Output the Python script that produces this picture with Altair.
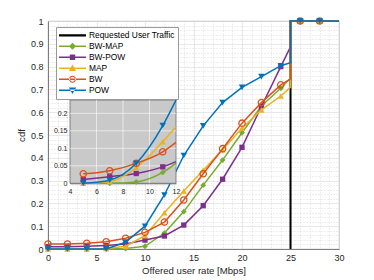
import altair as alt
import pandas as pd

# ---------------- data ----------------
series = ["Requested User Traffic", "BW-MAP", "BW-POW", "MAP", "BW", "POW"]
colors = ["#000000", "#77AC30", "#7E2F8E", "#EDB120", "#D95319", "#0072BD"]

# main plot samples (even rates, then the value just before the step at 25)
x_main = [0, 2, 4, 6, 8, 10, 12, 14, 16, 18, 20, 22, 24, 25]
bw_map = [0, 0, 0, 0, 0.002, 0.012, 0.07, 0.164, 0.28, 0.39, 0.51, 0.627, 0.705, 0.75]
bw_pow = [0.01, 0.01, 0.012, 0.015, 0.022, 0.039, 0.057, 0.105, 0.19, 0.306, 0.446, 0.625, 0.80, 0.887]
map_ = [0, 0, 0, 0.002, 0.012, 0.058, 0.159, 0.254, 0.345, 0.435, 0.53, 0.61, 0.671, 0.71]
bw = [0.022, 0.022, 0.025, 0.032, 0.047, 0.073, 0.118, 0.215, 0.33, 0.44, 0.552, 0.642, 0.72, 0.745]
pow_ = [0, 0, 0, 0, 0.03, 0.10, 0.237, 0.41, 0.54, 0.642, 0.709, 0.756, 0.804, 0.817]

# after the step every cdf is 1
x_top = [25, 26, 28, 30]
y_top = [1, 1, 1, 1]

# requested user traffic (step at 25 Mbps)
req_x = [25, 25, 30]
req_y = [0, 1, 1]

# inset (zoom on 4..12 Mbps); last sample is where each curve leaves the inset
inset_x = [5, 7, 9, 11, 12]
in_bw_map = [0, 0, 0.004, 0.031, 0.057]
in_bw_pow = [0.011, 0.019, 0.028, 0.047, 0.062]
in_map = [0, 0.005, 0.045, 0.119, 0.162]
in_bw = [0.027, 0.036, 0.057, 0.09, 0.117]
in_pow = [0, 0.009, 0.057, 0.165, 0.238]
inset_xlim = [4, 12]
inset_ylim = [0, 0.238]
inset_xticks = [4, 6, 8, 10, 12]
inset_yticks = [0, 0.05, 0.1, 0.15, 0.2]

main_vals = [bw_map, bw_pow, map_, bw, pow_]
inset_vals = [in_bw_map, in_bw_pow, in_map, in_bw, in_pow]

# ---------------- styles ----------------
FONT = "Liberation Sans"
W, H = 291, 228
shapes = ["diamond", "square", "triangle-up", "circle", "triangle-down"]
sizes = [34, 28, 40, 40, 42]
filled = [True, True, True, False, True]

rows = []
for s, vals in zip(series[1:], main_vals):
    xs_ = x_main + x_top
    ys_ = vals + y_top
    for i, (xv, yv) in enumerate(zip(xs_, ys_)):
        rows.append({"series": s, "x": xv, "y": yv, "o": i,
                     "marker": (xv not in (25, 30))})
for i, (xv, yv) in enumerate(zip(req_x, req_y)):
    rows.append({"series": series[0], "x": xv, "y": yv, "o": i, "marker": False})
df = pd.DataFrame(rows)

irows = []
for s, vals in zip(series[1:], inset_vals):
    for xv, yv in zip(inset_x, vals):
        irows.append({"series": s, "x": xv, "y": yv, "marker": xv % 2 == 1})
idf = pd.DataFrame(irows)

# ---------------- main axes ----------------
minor_x = list(range(0, 31))
minor_y = [round(i * 0.02, 2) for i in range(51)]
xmaj = "datum.value % 5 === 0"
ymaj = "abs(datum.value*10 - round(datum.value*10)) < 1e-6"

xaxis = alt.Axis(values=minor_x, title="Offered user rate [Mbps]",
                 labelExpr=f"{xmaj} ? format(datum.value, 'd') : ''",
                 labelOverlap=False, labelFlush=False, ticks=False,
                 labelPadding=4, labelFontSize=9, labelFont=FONT, labelColor="#262626",
                 titleFont=FONT, titleFontSize=9.6, titleFontWeight="normal",
                 titleColor="#262626", titlePadding=3,
                 domainColor="#666", domainWidth=0.8,
                 gridDash={"condition": {"test": f"!({xmaj})", "value": [1, 2]}, "value": []},
                 gridColor={"condition": {"test": f"!({xmaj})", "value": "#cfcfcf"}, "value": "#dedede"},
                 gridWidth=0.7)
yaxis = alt.Axis(values=minor_y, title="cdf",
                 labelExpr=f"{ymaj} ? format(datum.value, '.1~f') : ''",
                 labelOverlap=False, labelFlush=False, ticks=False,
                 labelPadding=5, labelFontSize=9, labelFont=FONT, labelColor="#262626",
                 titleFont=FONT, titleFontSize=9.6, titleFontWeight="normal",
                 titleColor="#262626", titlePadding=4,
                 domainColor="#666", domainWidth=0.8,
                 gridDash={"condition": {"test": f"!({ymaj})", "value": [1, 2]}, "value": []},
                 gridColor={"condition": {"test": f"!({ymaj})", "value": "#cfcfcf"}, "value": "#dedede"},
                 gridWidth=0.7)
xs = alt.Scale(domain=[0, 30], nice=False, zero=False)
ys = alt.Scale(domain=[0, 1], nice=False, zero=False)
X = alt.X("x:Q", scale=xs, axis=xaxis)
Y = alt.Y("y:Q", scale=ys, axis=yaxis)

base = alt.Chart(df)
main_layers = []
for s, c, sh, sz, fl in zip(series, colors, [None] + shapes, [0] + sizes, [True] + filled):
    sd = base.transform_filter(alt.datum.series == s)
    main_layers.append(
        sd.mark_line(color=c, strokeWidth=2 if s == series[0] else 1.5)
        .encode(x=X, y=Y, order="o:Q")
    )
    if sh is not None:
        main_layers.append(
            sd.transform_filter("datum.marker")
            .mark_point(shape=sh, size=sz, filled=fl, color=c, opacity=1,
                        strokeWidth=1.3 if not fl else 0.8)
            .encode(x=X, y=Y)
        )

# legend symbols: line + marker drawn as custom paths
L = "M-1,-0.055L1,-0.055L1,0.055L-1,0.055Z"
leg_paths = [
    "M-1,-0.08L1,-0.08L1,0.08L-1,0.08Z",
    L + "M0,-0.26L0.26,0L0,0.26L-0.26,0Z",
    L + "M-0.2,-0.2L0.2,-0.2L0.2,0.2L-0.2,0.2Z",
    L + "M0,-0.28L0.27,0.2L-0.27,0.2Z",
    L + "M-0.26,0A0.26,0.26,0,1,0,0.26,0A0.26,0.26,0,1,0,-0.26,0Z"
        "M-0.18,0A0.18,0.18,0,1,1,0.18,0A0.18,0.18,0,1,1,-0.18,0Z",
    L + "M0,0.28L0.27,-0.2L-0.27,-0.2Z",
]
leg = alt.Legend(orient="none", legendX=8, legendY=6, title=None,
                 symbolSize=729, clipHeight=10.6, rowPadding=0, padding=3,
                 fillColor="white", strokeColor="#9a9a9a",
                 labelFont=FONT, labelFontSize=8.4, labelColor="#000",
                 labelOffset=3, symbolStrokeWidth=0, labelLimit=300, symbolOffset=0)
legend_layer = (
    alt.Chart(pd.DataFrame({"series": series}))
    .transform_filter("false")
    .mark_point(filled=True, size=729, opacity=1)
    .encode(
        color=alt.Color("series:N", sort=None,
                        scale=alt.Scale(domain=series, range=colors), legend=leg),
        shape=alt.Shape("series:N", sort=None,
                        scale=alt.Scale(domain=series, range=leg_paths), legend=leg),
    )
)
main_layers.append(legend_layer)
main = alt.layer(*main_layers)

# ---------------- inset ----------------
ixs = alt.Scale(domain=inset_xlim, range=[22, 128], nice=False, zero=False)
iys = alt.Scale(domain=inset_ylim, range=[162.3, 79], nice=False, zero=False)
ixaxis = alt.Axis(values=inset_xticks, orient="bottom", offset=-(H - 162.3), title=None,
                  grid=False, ticks=False, labelFontSize=7, labelFont=FONT,
                  labelColor="#262626", labelPadding=4, labelFlush=False,
                  domainColor="#555", domainWidth=0.8, format="d")
iyaxis = alt.Axis(values=inset_yticks, orient="left", offset=-22, title=None,
                  grid=False, ticks=False, labelFontSize=7, labelFont=FONT,
                  labelColor="#262626", labelPadding=3, labelFlush=False,
                  domainColor="#555", domainWidth=0.8, format="~g")
IX = alt.X("x:Q", scale=ixs, axis=ixaxis)
IY = alt.Y("y:Q", scale=iys, axis=iyaxis)

bg = alt.Chart(pd.DataFrame({"x": [inset_xlim[0]], "x2": [inset_xlim[1]],
                             "y": [inset_ylim[0]], "y2": [inset_ylim[1]]})).mark_rect(
    fill="#c9c9c9", stroke="#6a6a6a", strokeWidth=0.8
).encode(x=IX, x2="x2:Q", y=IY, y2="y2:Q")

vgrid = alt.Chart(pd.DataFrame({"x": inset_xticks[1:-1]})).mark_rule(
    color="white", strokeWidth=0.7, opacity=0.8
).encode(x=IX, y=alt.datum(inset_ylim[0]), y2=alt.datum(inset_ylim[1]))
hgrid = alt.Chart(pd.DataFrame({"y": inset_yticks[1:]})).mark_rule(
    color="white", strokeWidth=0.7, opacity=0.8
).encode(y=IY, x=alt.datum(inset_xlim[0]), x2=alt.datum(inset_xlim[1]))

ibase = alt.Chart(idf)
inset_layers = [bg, vgrid, hgrid]
for s, c, sh, sz, fl in zip(series[1:], colors[1:], shapes, sizes, filled):
    sd = ibase.transform_filter(alt.datum.series == s)
    inset_layers.append(
        sd.mark_line(color=c, strokeWidth=1.5, interpolate="monotone")
        .encode(x=IX, y=IY)
    )
    inset_layers.append(
        sd.transform_filter("datum.marker")
        .mark_point(shape=sh, size=sz, filled=fl, color=c, opacity=1,
                    strokeWidth=1.3 if not fl else 0.8)
        .encode(x=IX, y=IY)
    )
inset = alt.layer(*inset_layers)

chart = (
    alt.layer(main, inset)
    .resolve_scale(x="independent", y="independent")
    .properties(width=W, height=H,
                autosize=alt.AutoSizeParams(type="none"),
                padding={"left": 40, "top": 13, "right": 25, "bottom": 30},
                background="white")
    .configure_view(stroke="#9a9a9a", strokeWidth=0.8)
)

chart.save("out.html", embed_options={"renderer": "svg", "actions": False})
